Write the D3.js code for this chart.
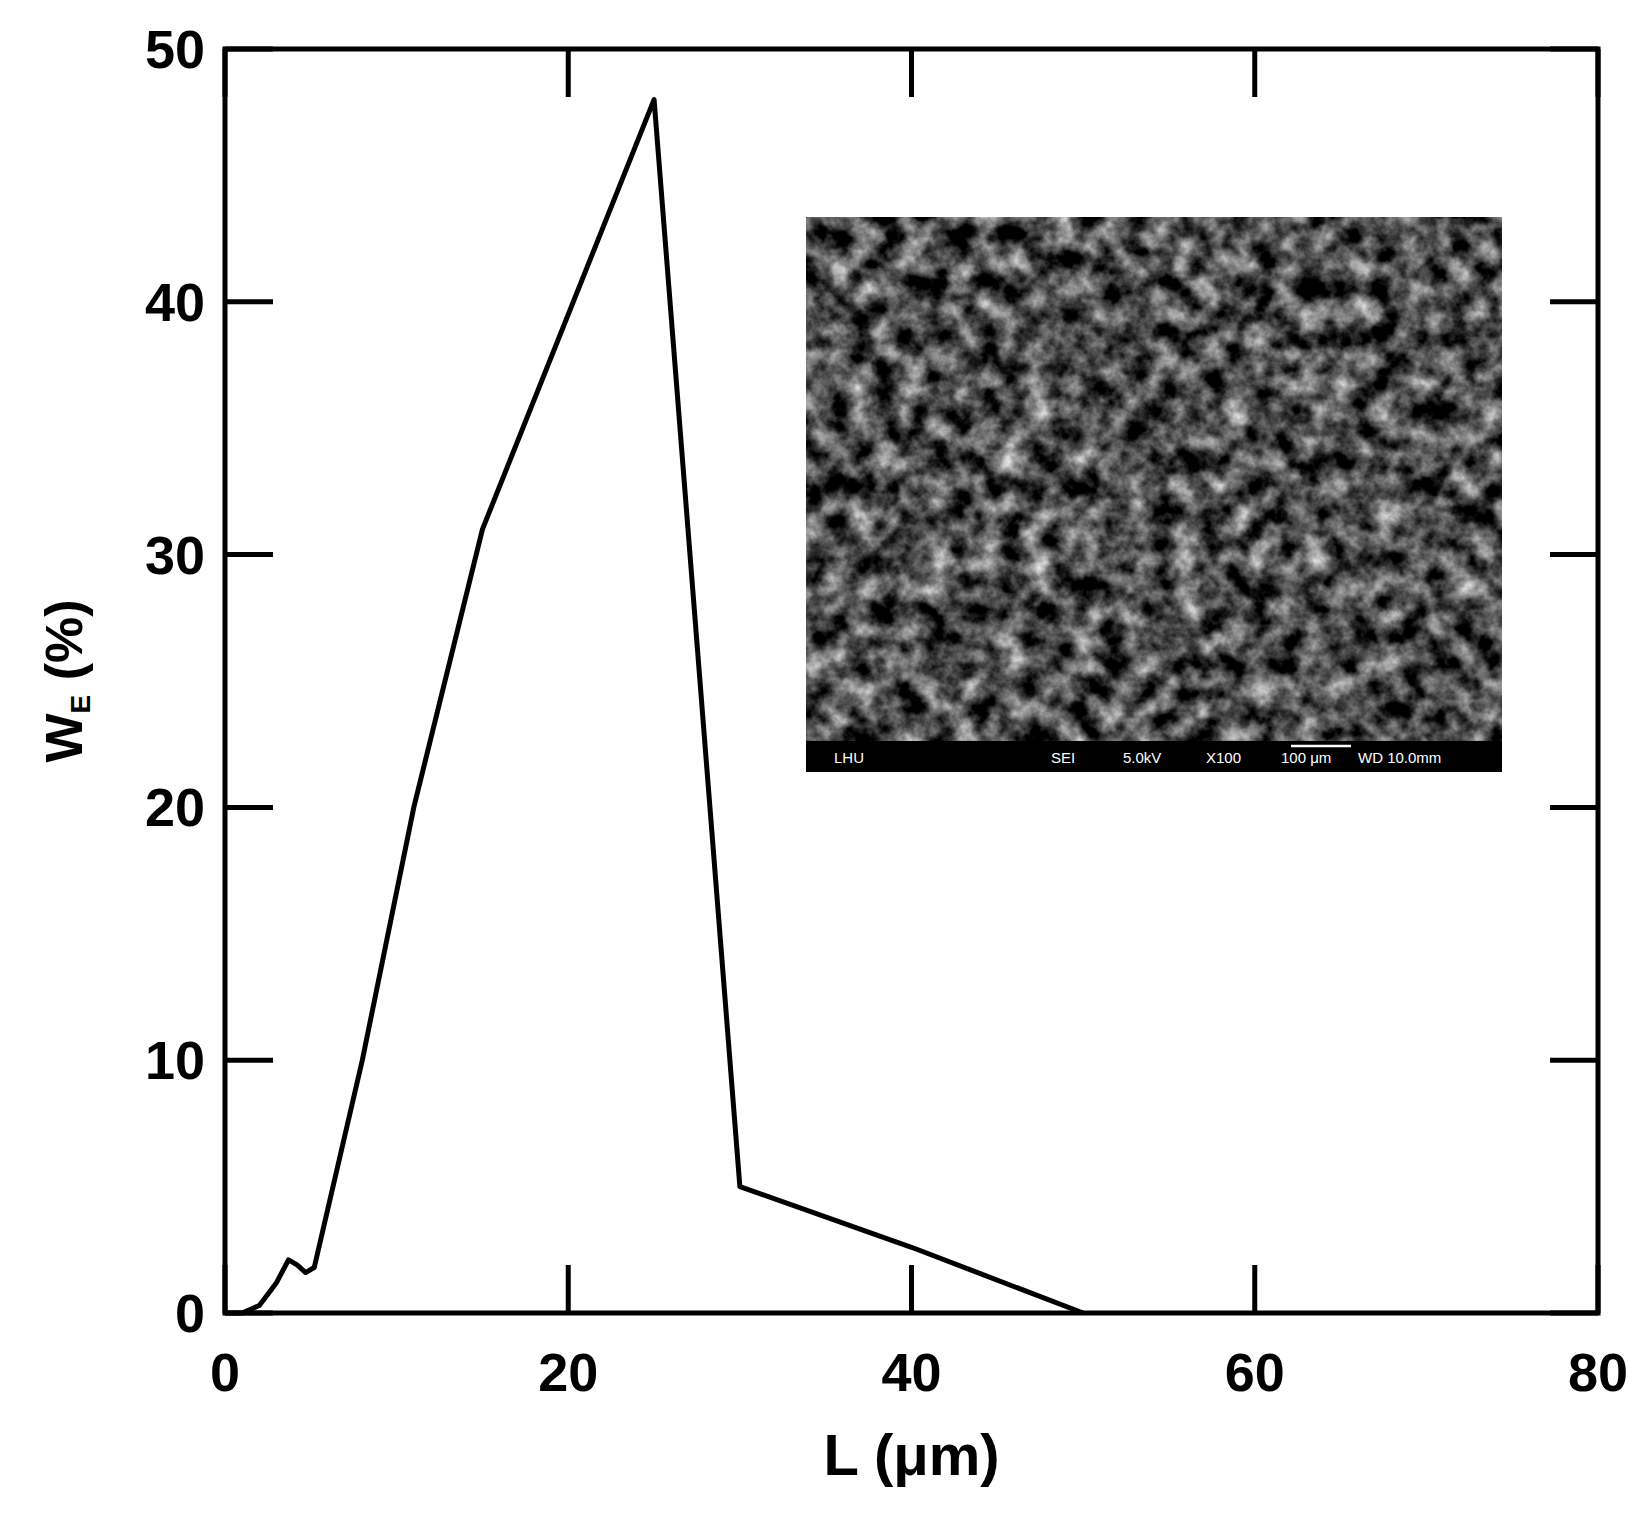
<!DOCTYPE html>
<html><head><meta charset="utf-8">
<script src="https://cdn.jsdelivr.net/npm/d3@7"></script>
<style>body{margin:0;background:#fff}</style>
</head><body>
<script>
// size distribution
var sizeL = [0, 1, 2, 3, 3.7, 4.2, 4.7, 5.2, 8, 11, 15, 25, 30, 40, 50];
var weightW = [0, 0, 0.3, 1.2, 2.1, 1.9, 1.6, 1.8, 10, 20, 31, 48, 5, 2.6, 0];
var xTicks = [0, 20, 40, 60, 80];
var yTicks = [0, 10, 20, 30, 40, 50];

var W = 1646, H = 1523;
var m = {l: 225, r: 48, t: 49, b: 210};
var svg = d3.select("body").append("svg").attr("width", W).attr("height", H);
var x = d3.scaleLinear().domain([0, 80]).range([m.l, W - m.r]);
var y = d3.scaleLinear().domain([0, 50]).range([H - m.b, m.t]);

// inset (SEM picture stand-in)
var defs = svg.append("defs");
var f = defs.append("filter").attr("id", "grain").attr("x", 0).attr("y", 0).attr("width", 1).attr("height", 1)
  .attr("color-interpolation-filters", "sRGB");
f.append("feTurbulence").attr("type", "fractalNoise").attr("baseFrequency", 0.04).attr("numOctaves", 4).attr("seed", 7);
f.append("feColorMatrix").attr("type", "matrix")
  .attr("values", "1.5 0 0 0 -0.45  1.5 0 0 0 -0.45  1.5 0 0 0 -0.45  0 0 0 0 1");
var ix = 806, iy = 217, iw = 696, ih = 524;
svg.append("rect").attr("x", ix).attr("y", iy).attr("width", iw).attr("height", ih).attr("fill", "#333");
svg.append("rect").attr("x", ix).attr("y", iy).attr("width", iw).attr("height", ih).attr("filter", "url(#grain)");
svg.append("rect").attr("x", ix).attr("y", iy + ih).attr("width", iw).attr("height", 31).attr("fill", "#000");
var bar = [["LHU", 28], ["SEI", 245], ["5.0kV", 317], ["X100", 400], ["100 μm", 475], ["WD 10.0mm", 552]];
svg.selectAll(".sem").data(bar).enter().append("text")
  .attr("x", function(d){ return ix + d[1]; }).attr("y", iy + ih + 22)
  .attr("fill", "#fff").attr("font-family", "Liberation Sans, Arial").attr("font-size", 15)
  .text(function(d){ return d[0]; });
svg.append("line").attr("x1", ix + 485).attr("x2", ix + 545).attr("y1", iy + ih + 5).attr("y2", iy + ih + 5)
  .attr("stroke", "#fff").attr("stroke-width", 2.5);

// ticks on all four sides, inward
var tl = 48;
xTicks.forEach(function(t){
  svg.append("line").attr("x1", x(t)).attr("x2", x(t)).attr("y1", y(0)).attr("y2", y(0) - tl).attr("stroke", "#000").attr("stroke-width", 5);
  svg.append("line").attr("x1", x(t)).attr("x2", x(t)).attr("y1", y(50)).attr("y2", y(50) + tl).attr("stroke", "#000").attr("stroke-width", 5);
  svg.append("text").attr("x", x(t)).attr("y", y(0) + 78).attr("text-anchor", "middle")
    .attr("font-family", "Liberation Sans, Arial").attr("font-weight", "bold").attr("font-size", 54).text(t);
});
yTicks.forEach(function(t){
  svg.append("line").attr("x1", x(0)).attr("x2", x(0) + tl).attr("y1", y(t)).attr("y2", y(t)).attr("stroke", "#000").attr("stroke-width", 5);
  svg.append("line").attr("x1", x(80)).attr("x2", x(80) - tl).attr("y1", y(t)).attr("y2", y(t)).attr("stroke", "#000").attr("stroke-width", 5);
  svg.append("text").attr("x", x(0) - 20).attr("y", y(t) + 19).attr("text-anchor", "end")
    .attr("font-family", "Liberation Sans, Arial").attr("font-weight", "bold").attr("font-size", 54).text(t);
});

svg.append("rect").attr("x", x(0)).attr("y", y(50)).attr("width", x(80) - x(0)).attr("height", y(0) - y(50))
  .attr("fill", "none").attr("stroke", "#000").attr("stroke-width", 5);

svg.append("path").datum(d3.range(sizeL.length))
  .attr("fill", "none").attr("stroke", "#000").attr("stroke-width", 5).attr("stroke-linejoin", "round")
  .attr("d", d3.line().x(function(i){ return x(sizeL[i]); }).y(function(i){ return y(weightW[i]); }));

// axis labels
svg.append("text").attr("x", (x(0) + x(80)) / 2).attr("y", H - 48).attr("text-anchor", "middle")
  .attr("font-family", "Liberation Sans, Arial").attr("font-weight", "bold").attr("font-size", 58).text("L (μm)");
var yl = svg.append("text").attr("transform", "translate(82," + y(25) + ") rotate(-90)").attr("text-anchor", "middle")
  .attr("font-family", "Liberation Sans, Arial").attr("font-weight", "bold").attr("font-size", 52);
yl.append("tspan").text("W");
yl.append("tspan").attr("font-size", 28).attr("dy", 8).text("E");
yl.append("tspan").attr("dy", -8).text(" (%)");
</script>
</body></html>
